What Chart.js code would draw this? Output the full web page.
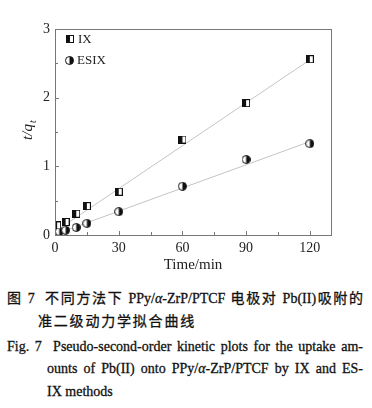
<!DOCTYPE html>
<html>
<head>
<meta charset="utf-8">
<script src="https://cdn.jsdelivr.net/npm/chart.js@4.4.1/dist/chart.umd.min.js"></script>
<style>
    html, body { margin: 0; padding: 0; background: #fff; }
    #wrap { position: relative; width: 372px; height: 408px; overflow: hidden; }
    #chartBox { position: absolute; left: 0; top: 0; width: 372px; height: 272px; }
    .cap { position: absolute; font-size: 14px; line-height: 20px; color: #111; white-space: nowrap;
           font-family: "Liberation Serif", "Noto Sans CJK SC", serif; -webkit-text-stroke: 0.3px #111; }
    .zh { font-family: "Liberation Serif", "Noto Sans CJK SC", serif; }
    .just { text-align: justify; text-align-last: justify; }
    i { font-style: italic; }
</style>
</head>
<body>
<div id="wrap">
    <div id="chartBox"><canvas id="chartKinetic" width="372" height="272"></canvas></div>
    <div class="cap zh just" style="left:7px; top:289px; width:356px;">图 7&nbsp; 不同方法下 PPy/<i>α</i>-ZrP/PTCF 电极对 Pb(II)吸附的</div>
    <div class="cap zh" style="left:38px; top:312px; letter-spacing:1.8px;">准二级动力学拟合曲线</div>
    <div class="cap just" style="left:7px; top:337px; width:356px;">Fig. 7&nbsp; Pseudo-second-order kinetic plots for the uptake am-</div>
    <div class="cap just" style="left:47px; top:359px; width:316px;">ounts of Pb(II) onto PPy/<i>α</i>-ZrP/PTCF by IX and ES-</div>
    <div class="cap" style="left:47px; top:382px;">IX methods</div>
</div>
<script>
// time (min) and t/q_t
var timeIX = [1, 5, 10, 15, 30, 60, 90, 120];
var valIX = [0.14, 0.19, 0.31, 0.42, 0.63, 1.39, 1.92, 2.56];
var timeESIX = [2, 5, 10, 15, 30, 60, 90, 120];
var valESIX = [0.05, 0.07, 0.11, 0.17, 0.34, 0.71, 1.10, 1.33];

// fitted lines, end points
var fitIXx = [1, 120];
var fitIXy = [0.07, 2.55];
var fitESIXx = [1, 120];
var fitESIXy = [0.02, 1.36];

var xTicks = [0, 30, 60, 90, 120];
var yTicks = [0, 1, 2, 3];

function pts(xs, ys) {
    return xs.map(function (x, i) { return { x: x, y: ys[i] }; });
}

function markerSquare() {
    var c = document.createElement('canvas');
    c.width = 8; c.height = 8;
    var g = c.getContext('2d');
    g.fillStyle = '#fff'; g.fillRect(0, 0, 8, 8);
    g.fillStyle = '#111'; g.fillRect(0, 0, 4, 8);
    g.strokeStyle = '#111'; g.lineWidth = 1; g.strokeRect(0.5, 0.5, 7, 7);
    return c;
}

function markerCircle() {
    var c = document.createElement('canvas');
    c.width = 9; c.height = 9;
    var g = c.getContext('2d');
    g.beginPath(); g.arc(4.5, 4.5, 4, 0, Math.PI * 2);
    g.fillStyle = '#fff'; g.fill();
    g.beginPath(); g.arc(4.5, 4.5, 4, -Math.PI / 2, Math.PI / 2);
    g.closePath(); g.fillStyle = '#111'; g.fill();
    g.beginPath(); g.arc(4.5, 4.5, 4, 0, Math.PI * 2);
    g.strokeStyle = '#111'; g.lineWidth = 1; g.stroke();
    return c;
}

var sq = markerSquare();
var ci = markerCircle();
var serif = '"Liberation Serif", "Times New Roman", serif';

var extras = {
    id: 'extras',
    afterDraw: function (chart) {
        var ctx = chart.ctx, a = chart.chartArea;
        var xs = chart.scales.x, ys = chart.scales.y;
        ctx.save();
        // frame
        ctx.strokeStyle = '#777';
        ctx.lineWidth = 1;
        ctx.strokeRect(Math.round(a.left) + 0.5, Math.round(a.top) + 0.5,
            Math.round(a.right - a.left), Math.round(a.bottom - a.top));
        // inward ticks
        ctx.beginPath();
        xs.ticks.forEach(function (t) {
            var p = Math.round(xs.getPixelForValue(t.value)) + 0.5;
            var len = t.value % 30 === 0 ? 4 : 3;
            ctx.moveTo(p, a.bottom); ctx.lineTo(p, a.bottom - len);
        });
        ys.ticks.forEach(function (t) {
            var p = Math.round(ys.getPixelForValue(t.value)) + 0.5;
            var len = Number.isInteger(t.value) ? 4 : 3;
            ctx.moveTo(a.left, p); ctx.lineTo(a.left + len, p);
        });
        ctx.stroke();
        // axis titles
        ctx.fillStyle = '#222';
        ctx.font = '15px ' + serif;
        ctx.textAlign = 'center';
        ctx.textBaseline = 'middle';
        ctx.fillText('Time/min', (a.left + a.right) / 2, 265);
        ctx.translate(27, (a.top + a.bottom) / 2 - 2);
        ctx.rotate(-Math.PI / 2);
        ctx.textAlign = 'left';
        ctx.textBaseline = 'alphabetic';
        ctx.font = 'italic 15px ' + serif;
        var w = ctx.measureText('t/q').width;
        ctx.fillText('t/q', -w / 2 - 2, 5);
        ctx.font = 'italic 10px ' + serif;
        ctx.fillText('t', w / 2 - 1, 9);
        ctx.restore();
        // legend
        ctx.save();
        ctx.drawImage(sq, a.left + 11, a.top + 6);
        ctx.drawImage(ci, a.left + 10, a.top + 27);
        ctx.fillStyle = '#222';
        ctx.font = '13px ' + serif;
        ctx.textBaseline = 'middle';
        ctx.fillText('IX', a.left + 23, a.top + 10.5);
        ctx.fillText('ESIX', a.left + 22, a.top + 32);
        ctx.restore();
    }
};

var chartKinetic = document.getElementById('chartKinetic');
new Chart(chartKinetic.getContext('2d'), {
    type: 'scatter',
    data: {
        datasets: [
            {
                label: 'IX',
                data: pts(timeIX, valIX),
                pointStyle: sq,
                order: 0,
            },
            {
                label: 'ESIX',
                data: pts(timeESIX, valESIX),
                pointStyle: ci,
                order: 0,
            },
            {
                label: 'IX fit',
                data: pts(fitIXx, fitIXy),
                showLine: true,
                pointRadius: 0,
                borderColor: '#c4c4c4',
                borderWidth: 1,
                order: 1,
            },
            {
                label: 'ESIX fit',
                data: pts(fitESIXx, fitESIXy),
                showLine: true,
                pointRadius: 0,
                borderColor: '#c4c4c4',
                borderWidth: 1,
                order: 1,
            },
        ],
    },
    options: {
        responsive: false,
        animation: false,
        devicePixelRatio: 1,
        layout: { padding: { left: 15, right: 41, top: 29, bottom: 0 } },
        plugins: {
            legend: { display: false },
            tooltip: { enabled: false },
        },
        scales: {
            x: {
                type: 'linear',
                min: 0,
                max: 130,
                afterFit: function (s) { s.height = 37; },
                ticks: {
                    stepSize: 15,
                    includeBounds: false,
                    maxRotation: 0,
                    autoSkip: false,
                    padding: 5,
                    color: '#222',
                    font: { family: serif, size: 14 },
                    callback: function (v) { return xTicks.indexOf(v) >= 0 ? v : ''; },
                },
                grid: { display: false, drawTicks: false },
                border: { display: false },
            },
            y: {
                type: 'linear',
                min: 0,
                max: 3,
                afterFit: function (s) { s.width = 40; },
                ticks: {
                    stepSize: 0.5,
                    autoSkip: false,
                    padding: 5,
                    color: '#222',
                    font: { family: serif, size: 14 },
                    callback: function (v) { return yTicks.indexOf(v) >= 0 ? v : ''; },
                },
                grid: { display: false, drawTicks: false },
                border: { display: false },
            },
        },
    },
    plugins: [extras],
});
</script>
</body>
</html>
